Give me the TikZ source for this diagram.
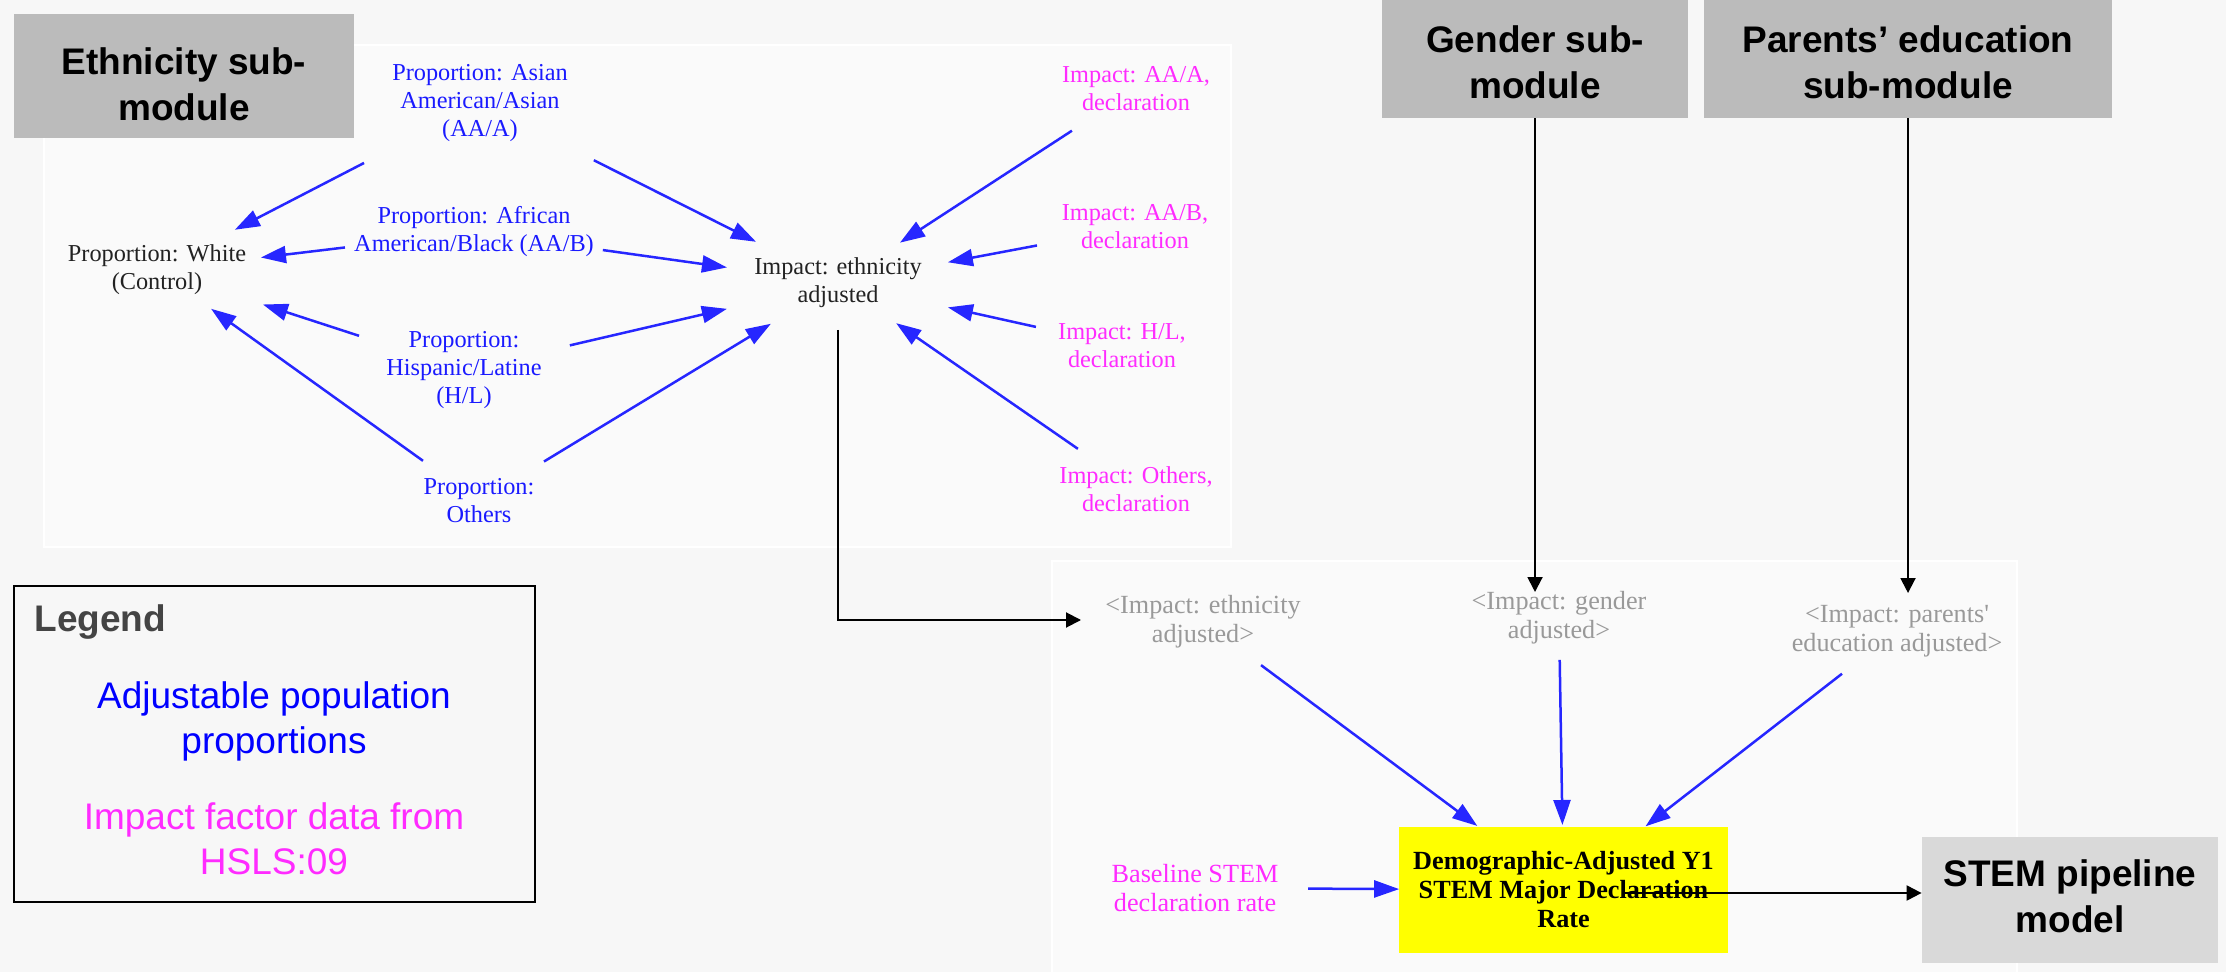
\documentclass[tikz,border=0pt]{standalone}
\usepackage{fontspec}
\setmainfont{Liberation Serif}
\newfontfamily\hdrfont{Liberation Sans}
\usetikzlibrary{arrows.meta,calc}
\definecolor{bgc}{HTML}{F7F7F7}
\definecolor{panelc}{HTML}{FAFAFA}
\definecolor{boxgray}{HTML}{BBBBBB}
\definecolor{stemgray}{HTML}{D9D9D9}
\definecolor{vblue}{HTML}{1A1AFF}
\definecolor{lblue}{HTML}{2626FF}
\definecolor{vmag}{HTML}{FF2BFF}
\definecolor{refgray}{HTML}{999999}
\definecolor{darktxt}{HTML}{222222}
\definecolor{leggray}{HTML}{444444}
\definecolor{yel}{HTML}{FFFF00}
\begin{document}
\begin{tikzpicture}[x=0.5pt,y=-0.5pt,
  hdrfill/.style={fill=boxgray, inner sep=0pt},
  hdrtext/.style={inner sep=0pt, align=center, text=black,
    font=\hdrfont\bfseries\fontsize{18.5}{23}\selectfont},
  toptext/.style={inner sep=0pt, align=center, font=\fontsize{12.15}{14}\selectfont},
  bottext/.style={inner sep=0pt, align=center, font=\fontsize{13.1}{14.5}\selectfont},
  legtext/.style={inner sep=0pt, align=center, font=\hdrfont\fontsize{18.5}{22.5}\selectfont},
  barrow/.style={draw=lblue, line width=1.25pt, -{Triangle[length=12.5pt,width=8.5pt]}},
  karrow/.style={draw=black, line width=1pt, -{Triangle[length=7.5pt,width=7.5pt]}},
  panel/.style={draw=white, line width=1pt, fill=panelc}
]
\useasboundingbox (0,0) rectangle (2226,972);
\fill[bgc] (0,0) rectangle (2226,972);

% panels
\draw[panel] (44,45) rectangle (1231,547);
\draw[panel] (1052,561) rectangle (2017,990);

% sub-module boxes
\node[hdrfill, minimum width=170pt, minimum height=62pt] (ethbox) at (184,76) {};
\node[hdrtext] (ethtxt) at (184,84) {Ethnicity sub-\\module};
\node[hdrfill, minimum width=153pt, minimum height=59pt] (genbox) at (1535,59) {};
\node[hdrtext] (gentxt) at (1535,62) {Gender sub-\\module};
\node[hdrfill, minimum width=204pt, minimum height=59pt] (parbox) at (1908,59) {};
\node[hdrtext] (partxt) at (1908,62) {Parents’ education\\sub-module};
\node[hdrfill, fill=stemgray, minimum width=148pt, minimum height=63pt] (stem) at (2070,900) {};
\node[hdrtext] (stemtxt) at (2070,896) {STEM pipeline\\model};

% ethnicity sub-module nodes
\node[toptext, text=darktxt] (white) at (157,270) {Proportion: White\\(Control)};
\node[toptext, text=vblue] (asian) at (480,103) {Proportion: Asian\\American/Asian\\(AA/A)};
\node[toptext, text=vblue] (aab) at (474,232) {Proportion: African\\American/Black (AA/B)};
\node[toptext, text=vblue] (hl) at (464,370) {Proportion:\\Hispanic/Latine\\(H/L)};
\node[toptext, text=vblue] (oth) at (479,501) {Proportion:\\Others};
\node[toptext, text=darktxt] (impeth) at (838,283) {Impact: ethnicity\\adjusted};
\node[toptext, text=vmag] (iaaa) at (1136,89) {Impact: AA/A,\\declaration};
\node[toptext, text=vmag] (iaab) at (1135,227) {Impact: AA/B,\\declaration};
\node[toptext, text=vmag] (ihl) at (1122,346) {Impact: H/L,\\declaration};
\node[toptext, text=vmag] (ioth) at (1136,489) {Impact: Others,\\declaration};

% arrows into White
\draw[barrow] ($(asian)!0.359!(white)$) -- ($(asian)!0.759!(white)$);
\draw[barrow] ($(aab)!0.407!(white)$) -- ($(aab)!0.672!(white)$);
\draw[barrow] ($(hl)!0.342!(white)$) -- ($(hl)!0.655!(white)$);
\draw[barrow] ($(oth)!0.174!(white)$) -- ($(oth)!0.832!(white)$);
% arrows into Impact: ethnicity adjusted
\draw[barrow] ($(asian)!0.318!(impeth)$) -- ($(asian)!0.771!(impeth)$);
\draw[barrow] ($(aab)!0.354!(impeth)$) -- ($(aab)!0.695!(impeth)$);
\draw[barrow] ($(hl)!0.283!(impeth)$) -- ($(hl)!0.703!(impeth)$);
\draw[barrow] ($(oth)!0.181!(impeth)$) -- ($(oth)!0.813!(impeth)$);
\draw[barrow] ($(iaaa)!0.215!(impeth)$) -- ($(iaaa)!0.792!(impeth)$);
\draw[barrow] ($(iaab)!0.33!(impeth)$) -- ($(iaab)!0.63!(impeth)$);
\draw[barrow] ($(ihl)!0.303!(impeth)$) -- ($(ihl)!0.613!(impeth)$);
\draw[barrow] ($(ioth)!0.195!(impeth)$) -- ($(ioth)!0.805!(impeth)$);

% bottom panel nodes
\node[bottext, text=refgray] (refeth) at (1203,622) {<Impact: ethnicity\\adjusted>};
\node[bottext, text=refgray] (refgen) at (1559,618) {<Impact: gender\\adjusted>};
\node[bottext, text=refgray] (refpar) at (1897,631) {<Impact: parents\textquotesingle\\education adjusted>};
\node[bottext, text=vmag] (base) at (1195,888) {Baseline STEM\\declaration rate};
\node[bottext, fill=yel, text=black, font=\bfseries\fontsize{13.1}{14.5}\selectfont,
      minimum width=164.5pt, minimum height=63pt] (target) at (1563.5,890)
      {Demographic-Adjusted Y1\\STEM Major Declaration\\Rate};

\draw[barrow] ($(refeth)!0.161!(target)$) -- ($(refeth)!0.761!(target)$);
\draw[barrow] ($(refgen)!0.154!(target)$) -- ($(refgen)!0.761!(target)$);
\draw[barrow] ($(refpar)!0.165!(target)$) -- ($(refpar)!0.754!(target)$);
\draw[barrow] ($(base)!0.307!(target)$) -- ($(base)!0.554!(target)$);

% black connectors
\draw[karrow] ($(impeth)+(0,47)$) |- ($(refeth)+(-122,-2)$);
\coordinate (gtip) at ($(refgen)+(0,-26)$);
\draw[karrow] (genbox.south) -- (genbox.south |- gtip);
\coordinate (ptip) at ($(refpar)+(0,-38)$);
\draw[karrow] (parbox.south) -- (parbox.south |- ptip);
\coordinate (ts) at ($(target)+(59,3)$);
\draw[karrow] (ts) -- (ts -| stem.west);

% legend
\node[draw=black, line width=1pt, minimum width=260.5pt, minimum height=158pt, inner sep=0pt] (legend) at (274.5,744) {};
\node[anchor=west, inner sep=0pt, text=leggray, font=\hdrfont\bfseries\fontsize{18.5}{22.5}\selectfont] (legtitle) at (34,622) {Legend};
\node[legtext, text=blue] (legblue) at (274,721) {Adjustable population\\proportions};
\node[legtext, text=vmag] (legmag) at (274,839) {Impact factor data from\\HSLS:09};
\end{tikzpicture}
\end{document}
